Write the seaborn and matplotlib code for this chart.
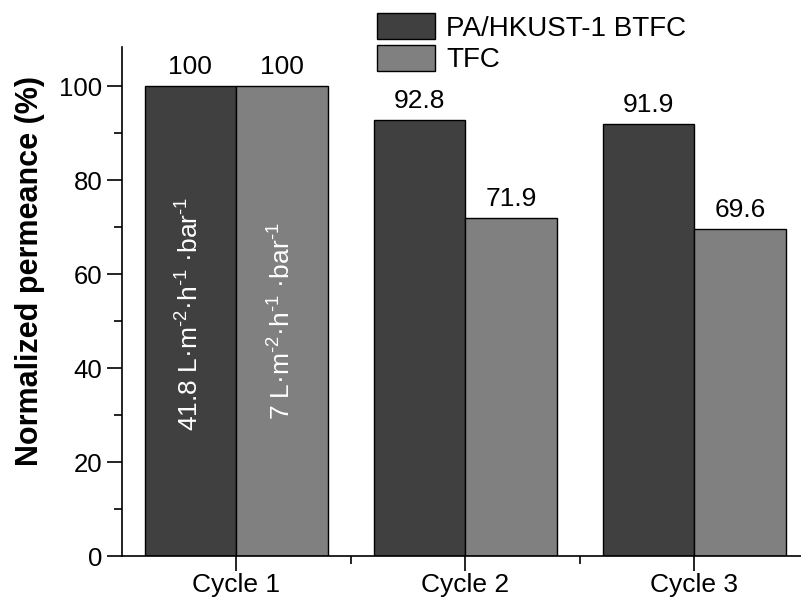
import numpy as np
import pandas as pd
import matplotlib
matplotlib.use("Agg")
import matplotlib.pyplot as plt
import seaborn as sns

cycles = ["Cycle 1", "Cycle 2", "Cycle 3"]
membranes = ["PA/HKUST-1 BTFC", "TFC"]
btfc_values = [100, 92.8, 91.9]
tfc_values = [100, 71.9, 69.6]
inner_labels = ["41.8 L·m$^{\u2010 2}$·h$^{\u2010 1}$ ·bar$^{\u2010 1}$",
                "7 L·m$^{\u2010 2}$·h$^{\u2010 1}$ ·bar$^{\u2010 1}$"]

data = pd.DataFrame({
    "Cycle": cycles * 2,
    "Membrane": [membranes[0]] * 3 + [membranes[1]] * 3,
    "Permeance": btfc_values + tfc_values,
})

colors = {"PA/HKUST-1 BTFC": "#404040", "TFC": "#808080"}

sns.set_style("ticks")
plt.rcParams["font.family"] = ["Liberation Sans", "DejaVu Sans"]
plt.rcParams["mathtext.default"] = "regular"
plt.rcParams["text.color"] = "black"
plt.rcParams["axes.labelcolor"] = "black"

fig = plt.figure(figsize=(8.01, 5.98), dpi=100)
ax = fig.add_axes([121.7 / 801, 42 / 598, 687 / 801, 508.8 / 598])

sns.barplot(x="Cycle", y="Permeance", hue="Membrane", data=data, order=cycles,
            hue_order=membranes, palette=colors, width=0.8, edgecolor="black",
            linewidth=1, saturation=1, ax=ax)

for cont in ax.containers:
    ax.bar_label(cont, fmt="%g", padding=5, fontsize=19)

# rotated flux values inside the first two bars
for cont, txt, ypos in zip(ax.containers, inner_labels, [51.5, 50]):
    bar = cont[0]
    ax.text(bar.get_x() + bar.get_width() / 2, ypos, txt, rotation=90, color="white",
            ha="center", va="center", fontsize=19)

ax.set_xlim(-0.5, 2.5)
ax.set_ylim(0, 108.3)
ax.set_yticks(range(0, 101, 20))
ax.set_yticks(range(10, 101, 20), minor=True)
ax.set_xticks([0.5, 1.5], minor=True)

ax.set_xlabel("")
ax.set_ylabel("Normalized permeance (%)", fontsize=22, fontweight="bold")
ax.yaxis.set_label_coords(-0.112, 0.56)
ax.tick_params(axis="both", which="major", labelsize=18.5, length=10.5, width=1.2,
               direction="out", color="black", labelcolor="black")
ax.tick_params(axis="x", which="major", labelsize=19, pad=1.5)
ax.tick_params(axis="both", which="minor", length=6, width=1.2, direction="out", color="black")
for s in ["top", "right"]:
    ax.spines[s].set_visible(False)
for s in ["left", "bottom"]:
    ax.spines[s].set_linewidth(1.2)
    ax.spines[s].set_color("black")

handles, labels = ax.get_legend_handles_labels()
ax.legend(handles, labels, loc="upper left", bbox_to_anchor=(376.7 / 801, 1 - 13.3 / 598),
          bbox_transform=fig.transFigure, frameon=False, fontsize=20, borderpad=0,
          borderaxespad=0, handlelength=2.1, handleheight=1.05, labelspacing=0.12,
          handletextpad=0.4)

fig.savefig("out.png", dpi=100)
